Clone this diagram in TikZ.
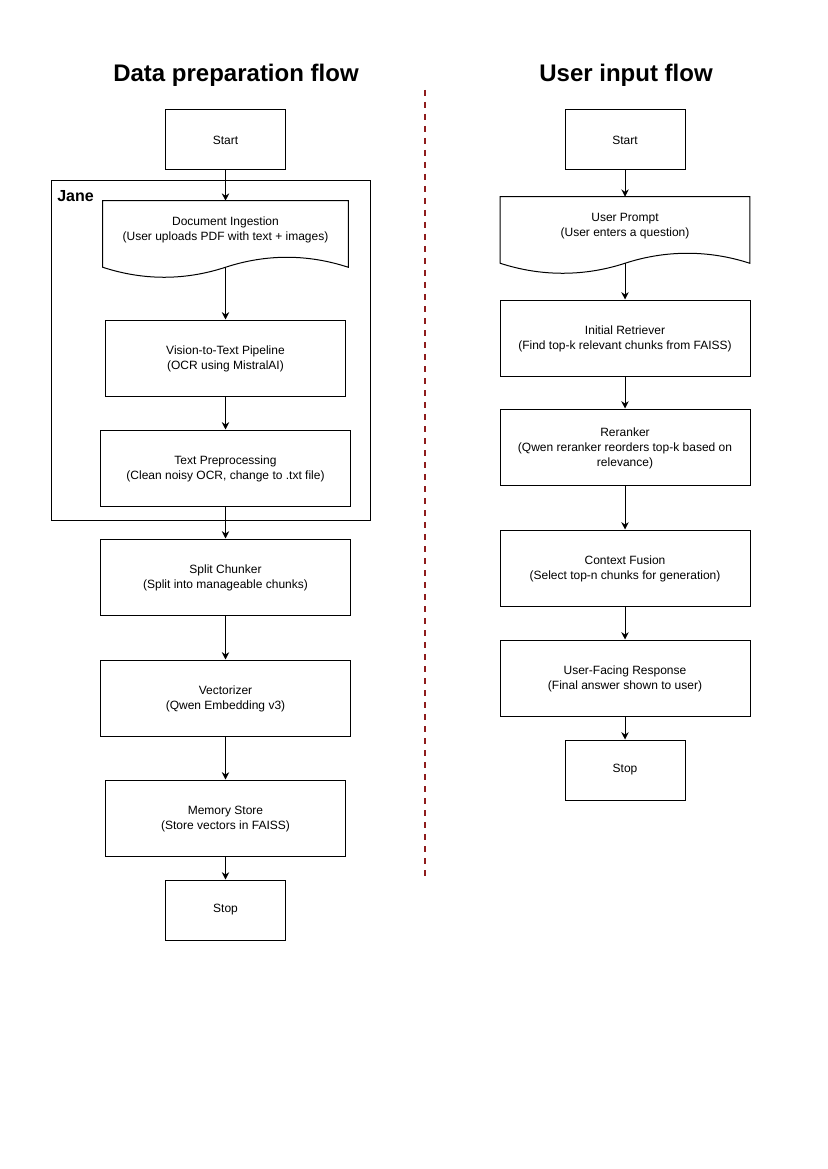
\documentclass[tikz,border=0pt]{standalone}
\usepackage{fontspec}
\setmainfont{Liberation Sans}
\usetikzlibrary{arrows.meta}

\definecolor{divred}{HTML}{8F1D1D}
\newcommand{\boxfont}{\fontsize{9}{11.25}\selectfont}
% document shape with wavy bottom, plus an out point on the wave
\newcommand{\wavedoc}[1]{%
  \draw[line width=0.75pt] (#1.north west) -- (#1.north east) -- ([yshift=-8.25pt]#1.south east)
    .. controls +(-30.6pt,10pt) and +(30.6pt,10pt) .. ([yshift=-8.25pt]#1.south)
    .. controls +(-30.6pt,-10pt) and +(30.6pt,-10pt) .. ([yshift=-8.25pt]#1.south west) -- cycle;
  \coordinate (#1-out) at ([yshift=-8.25pt]#1.south);}

\begin{document}
\begin{tikzpicture}[x=0.75pt, y=-0.75pt, font=\boxfont,
    proc/.style={draw, line width=0.75pt, minimum width=187.5pt, minimum height=57pt, align=center, inner sep=0pt, text depth=-2pt},
    narrow/.style={proc, minimum width=180pt},
    term/.style={draw, line width=0.75pt, minimum width=90pt, minimum height=45pt, inner sep=0pt},
    doc/.style={align=center, minimum height=41.25pt, inner sep=0pt, text depth=-2pt},
    arr/.style={line width=0.75pt, -{Stealth[length=5.5pt, width=5.5pt, inset=1.8pt]}},
    flowtitle/.style={font=\bfseries\fontsize{18}{21.6}\selectfont},
    divider/.style={divred, line width=1.5pt, dash pattern=on 4.5pt off 4.5pt}]
             \useasboundingbox (0,0) rectangle (827,1169);

             \node[flowtitle] (titleL) at (236,75) {Data preparation flow};
             \node[flowtitle] (titleR) at (626,75) {User input flow};
             \draw[divider] (425,90) -- (425,877);

             % data preparation
             \node[term] (startL) at (225.5,140) {Start};
             \node[draw, line width=0.75pt, minimum width=239.25pt, minimum height=254.25pt] (jane) at (210.5,350.5) {};
             \node[anchor=base west, inner sep=0pt, font=\bfseries\fontsize{12}{14}\selectfont] (janelbl) at (57,202) {Jane};
             \node[doc, minimum width=183.75pt] (ingest) at (225.5,228.5) {Document Ingestion\\(User uploads PDF with text + images)};
             \wavedoc{ingest}
             \node[narrow] (vision) at (225.5,358) {Vision-to-Text Pipeline\\(OCR using MistralAI)};
             \node[proc] (prep) at (225.5,468) {Text Preprocessing\\(Clean noisy OCR, change to .txt file)};
             \node[proc] (split) at (225.5,577) {Split Chunker\\(Split into manageable chunks)};
             \node[proc] (vect) at (225.5,698) {Vectorizer\\(Qwen Embedding v3)};
             \node[narrow] (mem) at (225.5,818) {Memory Store\\(Store vectors in FAISS)};
             \node[term] (stopL) at (225.5,910) {Stop};

             \draw[arr] (startL) -- (ingest.north);
             \draw[arr] (ingest-out) -- (vision);
             \draw[arr] (vision) -- (prep);
             \draw[arr] (prep) -- (split);
             \draw[arr] (split) -- (vect);
             \draw[arr] (vect) -- (mem);
             \draw[arr] (mem) -- (stopL);

             % user input
             \node[term] (startR) at (625,140) {Start};
             \node[doc, minimum width=186.75pt] (prompt) at (625,224.5) {User Prompt\\(User enters a question)};
             \wavedoc{prompt}
             \node[proc] (retr) at (625,338) {Initial Retriever\\(Find top-k relevant chunks from FAISS)};
             \node[proc] (rerank) at (625,447) {Reranker\\(Qwen reranker reorders top-k based on\\relevance)};
             \node[proc] (fusion) at (625,568) {Context Fusion\\(Select top-n chunks for generation)};
             \node[proc] (resp) at (625,678) {User-Facing Response\\(Final answer shown to user)};
             \node[term] (stopR) at (625,770) {Stop};

             \draw[arr] (startR) -- (prompt.north);
             \draw[arr] (prompt-out) -- (retr);
             \draw[arr] (retr) -- (rerank);
             \draw[arr] (rerank) -- (fusion);
             \draw[arr] (fusion) -- (resp);
             \draw[arr] (resp) -- (stopR);
\end{tikzpicture}
\end{document}
